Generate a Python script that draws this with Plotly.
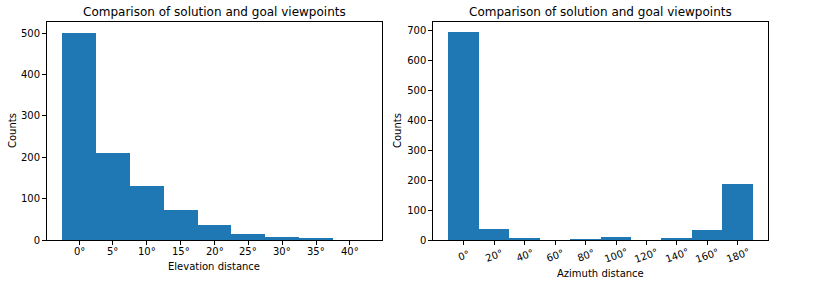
import plotly.graph_objects as go

# Data
elev_centers = [0, 5, 10, 15, 20, 25, 30, 35, 40]
elev_counts = [500, 210, 130, 72, 36, 14, 7, 5, 0]
elev_ticks = [0, 5, 10, 15, 20, 25, 30, 35, 40]
elev_ticktext = [f"{v}°" for v in elev_ticks]

azim_centers = [0, 20, 40, 60, 80, 100, 120, 140, 160, 180]
azim_counts = [694, 37, 4, 0, 3, 10, 0, 4, 34, 188]
azim_ticks = [0, 20, 40, 60, 80, 100, 120, 140, 160, 180]
azim_ticktext = [f"{v}°" for v in azim_ticks]

titles = ["Comparison of solution and goal viewpoints",
          "Comparison of solution and goal viewpoints"]
xlabels = ["Elevation distance", "Azimuth distance"]
ylabel = "Counts"

W, H = 814, 285
color = "#1f77b4"
font = dict(family="DejaVu Sans", size=10, color="black")
tfont = dict(family="DejaVu Sans", size=12, color="black")

fig = go.Figure()
fig.add_trace(go.Bar(x=elev_centers, y=elev_counts, width=5, marker=dict(color=color, line=dict(width=0)),
                     xaxis="x", yaxis="y", showlegend=False, hoverinfo="skip"))
fig.add_trace(go.Bar(x=azim_centers, y=azim_counts, width=20, marker=dict(color=color, line=dict(width=0)),
                     xaxis="x2", yaxis="y2", showlegend=False, hoverinfo="skip"))

ydom = [(H - 240) / H, (H - 22) / H]
axcommon = dict(showline=True, linecolor="black", linewidth=1, mirror=True, ticks="outside",
                ticklen=4, tickcolor="black", showgrid=False, zeroline=False, tickfont=font,
                automargin=False)

fig.update_layout(
    width=W, height=H, margin=dict(l=0, r=0, t=0, b=0, autoexpand=False),
    paper_bgcolor="white", plot_bgcolor="white", bargap=0, font=font,
    xaxis=dict(domain=[47 / W, 382 / W], range=[-4.75, 44.75], tickvals=elev_ticks,
               showticklabels=False, anchor="y", **axcommon),
    yaxis=dict(domain=ydom, range=[0, 527], tickvals=[0, 100, 200, 300, 400, 500],
               anchor="x", **axcommon),
    xaxis2=dict(domain=[433.3 / W, 768.3 / W], range=[-20, 200], tickvals=azim_ticks,
                showticklabels=False, anchor="y2", **axcommon),
    yaxis2=dict(domain=ydom, range=[0, 729], tickvals=[0, 100, 200, 300, 400, 500, 600, 700],
                anchor="x2", **axcommon),
)

ann = []
# x tick labels
for v, t in zip(elev_ticks, elev_ticktext):
    ann.append(dict(x=v, y=(H - 251) / H, xref="x", yref="paper", text=t, showarrow=False,
                    font=font, xanchor="center", yanchor="middle"))
for v, t in zip(azim_ticks, azim_ticktext):
    ann.append(dict(x=v, y=(H - 255) / H, xref="x2", yref="paper", text=t, showarrow=False,
                    font=font, xanchor="center", yanchor="middle", textangle=-20))
for cx, t in [((47 + 382) / 2, titles[0]), ((433.3 + 768.3) / 2, titles[1])]:
    ann.append(dict(x=cx / W, y=(H - 12) / H, xref="paper", yref="paper", text=t, showarrow=False,
                    font=tfont, xanchor="center", yanchor="middle"))
ann.append(dict(x=(47 + 382) / 2 / W, y=(H - 266) / H, xref="paper", yref="paper", text=xlabels[0],
                showarrow=False, font=font, xanchor="center", yanchor="middle"))
ann.append(dict(x=(433.3 + 768.3) / 2 / W, y=(H - 273) / H, xref="paper", yref="paper", text=xlabels[1],
                showarrow=False, font=font, xanchor="center", yanchor="middle"))
for xc in [12, 397]:
    ann.append(dict(x=xc / W, y=(H - 131) / H, xref="paper", yref="paper", text=ylabel, textangle=-90,
                    showarrow=False, font=font, xanchor="center", yanchor="middle"))
fig.update_layout(annotations=ann)

fig.write_html("out.html", config={"displayModeBar": False},
               post_script="document.body.style.margin='0';document.body.style.overflow='hidden';")
